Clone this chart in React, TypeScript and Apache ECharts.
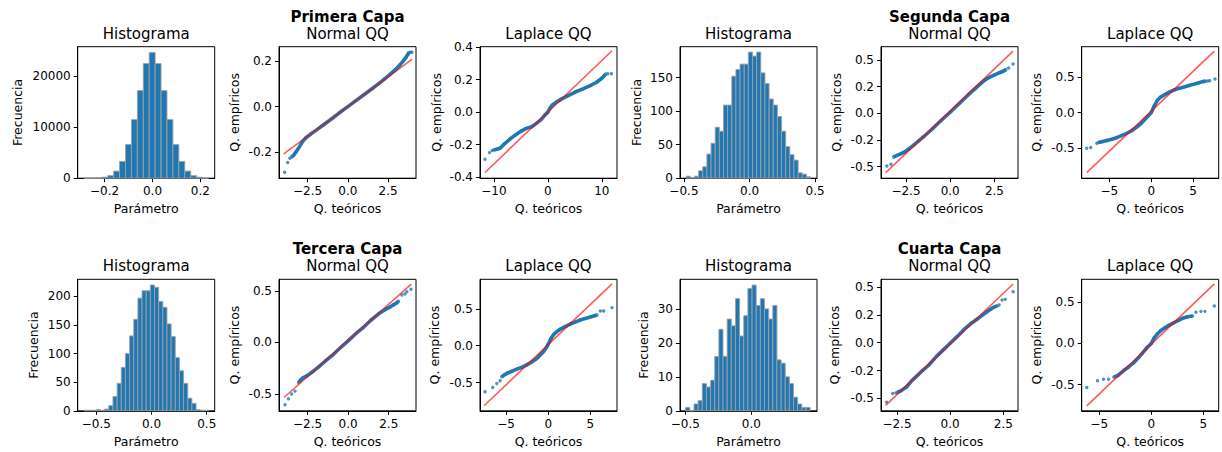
import React, { useEffect, useRef } from 'react';
import * as echarts from 'echarts';

const FONT = 'DejaVu Sans';
const BLUE = '#1f77b4';
const RED = 'rgba(255,0,0,0.65)';

// ---------- Histogram data ----------
const hist1Start = -0.286;
const hist1Width = 0.02476;
const hist1Counts = [20, 30, 60, 200, 500, 1400, 3300, 6600, 11500, 17200, 22500, 24700, 22500, 17200, 11500, 6600, 3300, 1400, 500, 200, 60];

const hist2Start = -0.483;
const hist2Width = 0.0316;
const hist2Counts = [3, 1, 3, 11, 17, 36, 52, 76, 70, 109, 109, 152, 162, 170, 170, 188, 182, 188, 157, 141, 118, 109, 92, 70, 47, 35, 27, 8, 6, 2];

const hist3Start = -0.612;
const hist3Width = 0.0376;
const hist3Counts = [1, 1, 1, 2, 1, 3, 9, 25, 48, 76, 100, 131, 160, 197, 210, 210, 220, 216, 191, 181, 152, 130, 93, 70, 48, 22, 13, 2, 1, 1];

const hist4Start = -0.497;
const hist4Width = 0.0314;
const hist4Counts = [1, 0, 2, 3, 8, 7, 9, 16, 24, 16, 27, 25, 33, 22, 28, 36, 37, 31, 33, 30, 27, 31, 15, 14, 10, 8, 4, 2, 1, 1];

// ---------- QQ data ----------
const p1NormTailL = [[-3.92, -0.287], [-3.73, -0.244], [-3.6, -0.226]];
const p1NormCore = [[-3.49, -0.22], [-3.35, -0.212], [-3.2, -0.196], [-3.0, -0.175], [-2.8, -0.152], [-2.6, -0.136], [-2.3, -0.12], [-2.0, -0.105], [-1.5, -0.079], [-1.0, -0.053], [-0.5, -0.026], [0, 0], [0.5, 0.026], [1.0, 0.052], [1.5, 0.078], [2.0, 0.105], [2.3, 0.122], [2.6, 0.14], [2.9, 0.158], [3.2, 0.18], [3.45, 0.2], [3.6, 0.215], [3.72, 0.228], [3.8, 0.237]];
const p1NormTailR = [[3.9, 0.238], [3.98, 0.238]];
const p1NormFit = [[-3.98, -0.207], [3.98, 0.207]];

const p1LapTailL = [[-11.64, -0.29], [-10.8, -0.249], [-10.3, -0.236]];
const p1LapCore = [[-10.0, -0.232], [-9.5, -0.228], [-8.85, -0.222], [-8.2, -0.2], [-7.0, -0.165], [-6.0, -0.14], [-5.0, -0.118], [-4.0, -0.1], [-3.0, -0.09], [-2.0, -0.066], [-1.2, -0.045], [-0.6, -0.02], [0, 0], [0.4, 0.025], [0.8, 0.042], [1.5, 0.06], [2.5, 0.08], [3.5, 0.097], [5.0, 0.122], [6.5, 0.143], [8.0, 0.165], [9.1, 0.185], [10.0, 0.208], [10.4, 0.222], [10.7, 0.234]];
const p1LapTailR = [[11.1, 0.236], [11.77, 0.236]];
const p1LapFit = [[-11.64, -0.371], [11.89, 0.377]];

const p2NormTailL = [[-3.58, -0.494], [-3.35, -0.478]];
const p2NormCore = [[-3.2, -0.41], [-3.0, -0.395], [-2.8, -0.38], [-2.55, -0.36], [-2.3, -0.33], [-2.08, -0.3], [-1.8, -0.262], [-1.5, -0.22], [-1.0, -0.145], [-0.5, -0.065], [0, 0.01], [0.5, 0.09], [1.0, 0.17], [1.5, 0.245], [1.8, 0.29], [2.08, 0.325], [2.3, 0.345], [2.5, 0.36], [2.7, 0.375], [2.85, 0.385], [3.0, 0.395], [3.15, 0.41]];
const p2NormTailR = [[3.3, 0.425], [3.55, 0.463]];
const p2NormFit = [[-3.64, -0.556], [3.55, 0.584]];

const p2LapTailL = [[-7.71, -0.5], [-7.23, -0.49], [-6.5, -0.43]];
const p2LapCore = [[-6.3, -0.42], [-5.8, -0.405], [-5.3, -0.39], [-4.6, -0.37], [-4.1, -0.35], [-3.5, -0.32], [-2.9, -0.29], [-2.3, -0.25], [-1.69, -0.2], [-1.2, -0.15], [-0.88, -0.11], [-0.4, -0.05], [0, 0.0], [0.35, 0.09], [0.72, 0.17], [1.1, 0.215], [1.53, 0.248], [2.1, 0.285], [2.73, 0.318], [3.3, 0.34], [3.94, 0.36], [4.5, 0.38], [5.14, 0.4], [5.7, 0.42], [6.14, 0.435], [6.5, 0.442]];
const p2LapTailR = [[6.75, 0.444], [7.0, 0.446], [7.63, 0.472]];
const p2LapFit = [[-7.71, -0.841], [7.55, 0.864]];

const p3NormTailL = [[-3.89, -0.605], [-3.68, -0.547], [-3.48, -0.5], [-3.27, -0.472]];
const p3NormCore = [[-3.06, -0.39], [-2.9, -0.36], [-2.8, -0.345], [-2.5, -0.32], [-2.2, -0.285], [-1.8, -0.235], [-1.4, -0.18], [-0.9, -0.115], [-0.4, -0.04], [0, 0.015], [0.4, 0.075], [0.9, 0.14], [1.4, 0.215], [1.9, 0.28], [2.3, 0.32], [2.6, 0.345], [2.8, 0.365], [3.0, 0.385], [3.1, 0.4]];
const p3NormTailR = [[3.31, 0.46], [3.5, 0.47], [3.62, 0.492], [3.87, 0.515]];
const p3NormFit = [[-3.95, -0.534], [3.89, 0.566]];

const p3LapTailL = [[-7.5, -0.624], [-6.59, -0.566], [-6.11, -0.511], [-5.71, -0.475]];
const p3LapCore = [[-5.52, -0.42], [-5.2, -0.395], [-4.92, -0.376], [-4.3, -0.345], [-3.73, -0.318], [-3.1, -0.29], [-2.54, -0.26], [-1.95, -0.22], [-1.35, -0.172], [-0.9, -0.12], [-0.56, -0.081], [-0.2, -0.02], [0, 0.02], [0.3, 0.09], [0.63, 0.15], [1.0, 0.19], [1.43, 0.222], [2.0, 0.26], [2.62, 0.294], [3.2, 0.32], [3.81, 0.348], [4.4, 0.37], [5.0, 0.39], [5.5, 0.405], [5.79, 0.416]];
const p3LapTailR = [[6.19, 0.47], [6.59, 0.47], [7.58, 0.516]];
const p3LapFit = [[-7.62, -0.814], [7.58, 0.837]];

const p4NormTailL = [[-2.99, -0.533], [-2.7, -0.455], [-2.55, -0.45]];
const p4NormCore = [[-2.48, -0.446], [-2.3, -0.43], [-2.04, -0.395], [-1.8, -0.34], [-1.57, -0.3], [-1.3, -0.25], [-1.0, -0.2], [-0.63, -0.12], [-0.3, -0.06], [0, -0.005], [0.3, 0.05], [0.63, 0.115], [1.0, 0.175], [1.26, 0.21], [1.5, 0.245], [1.73, 0.278], [1.9, 0.3], [2.04, 0.317], [2.2, 0.33]];
const p4NormTailR = [[2.3, 0.338], [2.44, 0.383], [2.59, 0.389], [2.96, 0.458]];
const p4NormFit = [[-3.03, -0.563], [2.96, 0.527]];

const p4LapTailL = [[-6.19, -0.537], [-5.16, -0.455], [-4.58, -0.435], [-4.1, -0.435]];
const p4LapCore = [[-3.6, -0.41], [-3.2, -0.39], [-2.65, -0.33], [-2.2, -0.29], [-1.68, -0.235], [-1.2, -0.17], [-0.87, -0.122], [-0.4, -0.05], [0, 0.0], [0.3, 0.07], [0.58, 0.114], [0.9, 0.155], [1.23, 0.183], [1.7, 0.22], [2.19, 0.252], [2.7, 0.285], [3.16, 0.313], [3.5, 0.325], [3.97, 0.333]];
const p4LapTailR = [[4.29, 0.378], [4.77, 0.39], [5.16, 0.39], [6.06, 0.455]];
const p4LapFit = [[-6.19, -0.76], [6.06, 0.724]];

// ---------- Tick values and labels ----------
const histX1Ticks = [-0.2, 0, 0.2];
const histX1Labels = ['\u22120.2', '0.0', '0.2'];
const histX05Ticks = [-0.5, 0, 0.5];
const histX05Labels = ['\u22120.5', '0.0', '0.5'];
const hist1YTicks = [0, 10000, 20000];
const hist2YTicks = [0, 50, 100, 150];
const hist3YTicks = [0, 50, 100, 150, 200];
const hist4YTicks = [0, 10, 20, 30];
const normXTicks = [-2.5, 0, 2.5];
const normXLabels = ['\u22122.5', '0.0', '2.5'];
const lap10XTicks = [-10, 0, 10];
const lap10XLabels = ['\u221210', '0', '10'];
const lap5XTicks = [-5, 0, 5];
const lap5XLabels = ['\u22125', '0', '5'];
const qqY02Ticks = [-0.2, 0, 0.2];
const qqY02Labels = ['-0.2', '0.0', '0.2'];
const qqY04Ticks = [-0.4, -0.2, 0, 0.2, 0.4];
const qqY04Labels = ['-0.4', '-0.2', '0.0', '0.2', '0.4'];
const qqY025Ticks = [-0.5, -0.25, 0, 0.25, 0.5];
const qqY025Labels = ['-0.5', '-0.2', '0.0', '0.2', '0.5'];
const qqY05Ticks = [-0.5, 0, 0.5];
const qqY05Labels = ['-0.5', '0.0', '0.5'];

const groupTitles = ['Primera Capa', 'Segunda Capa', 'Tercera Capa', 'Cuarta Capa'];

// ---------- Layout ----------
const colLeft = [77.7, 279, 480, 680, 881, 1081.7];
const rowTop = [46.7, 279.3];
const plotW = 137;
const plotH = 131.5;
const titleY = [33.5, 266];
const groupY = [16.5, 248.5];

type Panel = {
  kind: 'hist' | 'qq';
  row: number; col: number;
  xMin: number; xMax: number; xTicks: number[]; xLabels: string[];
  yMin: number; yMax: number; yTicks: number[]; yLabels: string[];
  title: string; group?: string; yGap: number;
  hist?: { start: number; width: number; counts: number[] };
  qq?: { tailL: number[][]; core: number[][]; tailR: number[][]; fit: number[][] };
};

const intLabels = (t: number[]) => t.map((v) => String(v));

const panels: Panel[] = [
  { kind: 'hist', row: 0, col: 0, xMin: -0.3125, xMax: 0.26, xTicks: histX1Ticks, xLabels: histX1Labels, yMin: 0, yMax: 25830, yTicks: hist1YTicks, yLabels: intLabels(hist1YTicks), title: 'Histograma', yGap: 54, hist: { start: hist1Start, width: hist1Width, counts: hist1Counts } },
  { kind: 'qq', row: 0, col: 1, xMin: -4.27, xMax: 4.23, xTicks: normXTicks, xLabels: normXLabels, yMin: -0.313, yMax: 0.262, yTicks: qqY02Ticks, yLabels: qqY02Labels, title: 'Normal QQ', group: groupTitles[0], yGap: 38, qq: { tailL: p1NormTailL, core: p1NormCore, tailR: p1NormTailR, fit: p1NormFit } },
  { kind: 'qq', row: 0, col: 2, xMin: -12.57, xMax: 12.82, xTicks: lap10XTicks, xLabels: lap10XLabels, yMin: -0.406, yMax: 0.402, yTicks: qqY04Ticks, yLabels: qqY04Labels, title: 'Laplace QQ', yGap: 37.5, qq: { tailL: p1LapTailL, core: p1LapCore, tailR: p1LapTailR, fit: p1LapFit } },
  { kind: 'hist', row: 0, col: 3, xMin: -0.53, xMax: 0.514, xTicks: histX05Ticks, xLabels: histX05Labels, yMin: 0, yMax: 196, yTicks: hist2YTicks, yLabels: intLabels(hist2YTicks), title: 'Histograma', yGap: 37.5, hist: { start: hist2Start, width: hist2Width, counts: hist2Counts } },
  { kind: 'qq', row: 0, col: 4, xMin: -3.91, xMax: 3.83, xTicks: normXTicks, xLabels: normXLabels, yMin: -0.609, yMax: 0.625, yTicks: qqY025Ticks, yLabels: qqY025Labels, title: 'Normal QQ', group: groupTitles[1], yGap: 38.5, qq: { tailL: p2NormTailL, core: p2NormCore, tailR: p2NormTailR, fit: p2NormFit } },
  { kind: 'qq', row: 0, col: 5, xMin: -8.31, xMax: 8.07, xTicks: lap5XTicks, xLabels: lap5XLabels, yMin: -0.92, yMax: 0.925, yTicks: qqY05Ticks, yLabels: qqY05Labels, title: 'Laplace QQ', yGap: 39, qq: { tailL: p2LapTailL, core: p2LapCore, tailR: p2LapTailR, fit: p2LapFit } },
  { kind: 'hist', row: 1, col: 0, xMin: -0.668, xMax: 0.572, xTicks: histX05Ticks, xLabels: histX05Labels, yMin: 0, yMax: 230, yTicks: hist3YTicks, yLabels: intLabels(hist3YTicks), title: 'Histograma', yGap: 38, hist: { start: hist3Start, width: hist3Width, counts: hist3Counts } },
  { kind: 'qq', row: 1, col: 1, xMin: -4.26, xMax: 4.18, xTicks: normXTicks, xLabels: normXLabels, yMin: -0.663, yMax: 0.612, yTicks: qqY05Ticks, yLabels: qqY05Labels, title: 'Normal QQ', group: groupTitles[2], yGap: 38.5, qq: { tailL: p3NormTailL, core: p3NormCore, tailR: p3NormTailR, fit: p3NormFit } },
  { kind: 'qq', row: 1, col: 2, xMin: -8.1, xMax: 8.17, xTicks: lap5XTicks, xLabels: lap5XLabels, yMin: -0.882, yMax: 0.9, yTicks: qqY05Ticks, yLabels: qqY05Labels, title: 'Laplace QQ', yGap: 39.5, qq: { tailL: p3LapTailL, core: p3LapCore, tailR: p3LapTailR, fit: p3LapFit } },
  { kind: 'hist', row: 1, col: 3, xMin: -0.54, xMax: 0.497, xTicks: histX05Ticks, xLabels: histX05Labels, yMin: 0, yMax: 38.7, yTicks: hist4YTicks, yLabels: intLabels(hist4YTicks), title: 'Histograma', yGap: 30, hist: { start: hist4Start, width: hist4Width, counts: hist4Counts } },
  { kind: 'qq', row: 1, col: 4, xMin: -3.25, xMax: 3.19, xTicks: normXTicks, xLabels: normXLabels, yMin: -0.611, yMax: 0.569, yTicks: qqY025Ticks, yLabels: qqY025Labels, title: 'Normal QQ', group: groupTitles[3], yGap: 40.5, qq: { tailL: p4NormTailL, core: p4NormCore, tailR: p4NormTailR, fit: p4NormFit } },
  { kind: 'qq', row: 1, col: 5, xMin: -6.68, xMax: 6.48, xTicks: lap5XTicks, xLabels: lap5XLabels, yMin: -0.82, yMax: 0.78, yTicks: qqY05Ticks, yLabels: qqY05Labels, title: 'Laplace QQ', yGap: 39, qq: { tailL: p4LapTailL, core: p4LapCore, tailR: p4LapTailR, fit: p4LapFit } },
];

function lookup(ticks: number[], labels: string[]) {
  return (v: number) => {
    for (let i = 0; i < ticks.length; i++) {
      if (Math.abs(ticks[i] - v) < 1e-9 * Math.max(1, Math.abs(v))) return labels[i];
    }
    return '';
  };
}

function buildOption() {
  const grid: any[] = [];
  const xAxis: any[] = [];
  const yAxis: any[] = [];
  const series: any[] = [];
  const graphic: any[] = [];

  panels.forEach((p, i) => {
    const left = colLeft[p.col];
    const top = rowTop[p.row];
    grid.push({ left, top, width: plotW, height: plotH, show: true, borderColor: '#000', borderWidth: 1, backgroundColor: 'transparent' });
    const isHist = p.kind === 'hist';
    xAxis.push({
      type: 'value', gridIndex: i, min: p.xMin, max: p.xMax,
      axisLine: { show: true, onZero: false, lineStyle: { color: '#000', width: 1 } },
      axisTick: { show: true, inside: false, length: 4, lineStyle: { color: '#000', width: 1 }, customValues: p.xTicks },
      axisLabel: { show: true, customValues: p.xTicks, formatter: lookup(p.xTicks, p.xLabels), color: '#000', fontFamily: FONT, fontSize: 12, margin: 7, hideOverlap: false },
      splitLine: { show: false },
      name: isHist ? 'Parámetro' : 'Q. teóricos', nameLocation: 'middle', nameGap: 24,
      nameTextStyle: { fontFamily: FONT, fontSize: 12.5, color: '#000' },
    });
    yAxis.push({
      type: 'value', gridIndex: i, min: p.yMin, max: p.yMax,
      axisLine: { show: true, onZero: false, lineStyle: { color: '#000', width: 1 } },
      axisTick: { show: true, inside: false, length: 4, lineStyle: { color: '#000', width: 1 }, customValues: p.yTicks },
      axisLabel: { show: true, customValues: p.yTicks, formatter: lookup(p.yTicks, p.yLabels), color: '#000', fontFamily: FONT, fontSize: 12, margin: 7, hideOverlap: false },
      splitLine: { show: false },
      name: isHist ? 'Frecuencia' : 'Q. empíricos', nameLocation: 'middle', nameGap: p.yGap,
      nameTextStyle: { fontFamily: FONT, fontSize: 12.5, color: '#000' },
    });

    if (isHist && p.hist) {
      const h = p.hist;
      const data = h.counts.map((c, k) => [h.start + k * h.width, h.start + (k + 1) * h.width, c]);
      series.push({
        type: 'custom', xAxisIndex: i, yAxisIndex: i, data,
        encode: { x: [0, 1], y: 2 },
        renderItem: (params: any, api: any) => {
          const p0 = api.coord([api.value(0), api.value(2)]);
          const p1 = api.coord([api.value(1), 0]);
          return {
            type: 'rect',
            shape: { x: p0[0], y: p0[1], width: p1[0] - p0[0], height: p1[1] - p0[1] },
            style: { fill: BLUE, stroke: '#a0a0a0', lineWidth: 0.9 },
          };
        },
      });
    } else if (p.qq) {
      const q = p.qq;
      series.push({
        type: 'line', xAxisIndex: i, yAxisIndex: i, data: q.core, symbol: 'none', showSymbol: false,
        lineStyle: { color: BLUE, width: 3.6 }, z: 2, silent: true,
      });
      series.push({
        type: 'scatter', xAxisIndex: i, yAxisIndex: i, data: [...q.tailL, ...q.core, ...q.tailR],
        symbol: 'circle', symbolSize: 3.4, itemStyle: { color: BLUE }, z: 3, silent: true,
      });
      series.push({
        type: 'line', xAxisIndex: i, yAxisIndex: i, data: q.fit, symbol: 'none', showSymbol: false,
        lineStyle: { color: RED, width: 1.6 }, z: 4, silent: true,
      });
    }

    const cx = left + plotW / 2;
    graphic.push({
      type: 'text', x: cx, y: titleY[p.row],
      style: { text: p.title, font: `15px "${FONT}"`, fill: '#000', align: 'center', verticalAlign: 'middle', textAlign: 'center', textVerticalAlign: 'middle' },
    });
    if (p.group) {
      graphic.push({
        type: 'text', x: cx, y: groupY[p.row],
        style: { text: p.group, font: `bold 15px "${FONT}"`, fill: '#000', align: 'center', verticalAlign: 'middle', textAlign: 'center', textVerticalAlign: 'middle' },
      });
    }
  });

  return { animation: false, backgroundColor: '#fff', grid, xAxis, yAxis, series, graphic };
}

export default function App() {
  const ref = useRef<HTMLDivElement>(null);
  useEffect(() => {
    if (!ref.current) return;
    const chart = echarts.init(ref.current, undefined, { renderer: 'svg' });
    chart.setOption(buildOption() as any);
    return () => chart.dispose();
  }, []);
  return <div ref={ref} style={{ position: 'fixed', left: 0, top: 0, width: 1222, height: 452, background: '#fff' }} />;
}
